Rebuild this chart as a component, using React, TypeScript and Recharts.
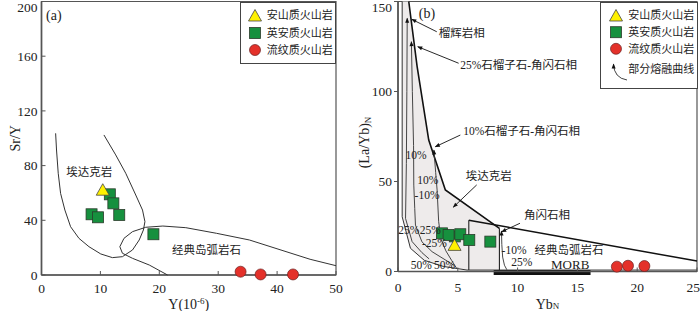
import React from 'react';
import {
  ScatterChart,
  Scatter,
  XAxis,
  YAxis,
  ReferenceDot,
  ReferenceArea,
  Legend,
} from 'recharts';

const SERIF = "'Liberation Serif', 'Times New Roman', serif";
const MIXED = "'Liberation Serif', 'Noto Sans CJK SC', serif";
const INK = '#222';
const AXIS = '#555';
const GREEN = '#16903e';
const RED = '#e4312a';
const YELLOW = '#fff100';
const FIELD_FILL = '#eeebeb';

// ---------- panel (a): Sr/Y vs Y ----------
const xTicksA = [0, 10, 20, 30, 40, 50];
const yTicksA = [0, 40, 80, 120, 160, 200];

const andesiteA = [{ x: 10.4, y: 62 }];
const daciteA = [
  { x: 11.6, y: 59 },
  { x: 12.2, y: 52.4 },
  { x: 8.5, y: 44.4 },
  { x: 9.6, y: 42.2 },
  { x: 13.2, y: 43.9 },
  { x: 19.0, y: 29.8 },
];
const rhyoliteA = [
  { x: 33.8, y: 2.4 },
  { x: 37.2, y: 0.4 },
  { x: 42.7, y: 0.4 },
];

// adakite field outline
const adakiteLineA = [
  { x: 2.4, y: 103.6 }, { x: 2.55, y: 91.4 }, { x: 2.84, y: 74.4 }, { x: 3.24, y: 59.7 },
  { x: 3.97, y: 47.5 }, { x: 4.94, y: 35.3 }, { x: 6.36, y: 26.8 }, { x: 8.06, y: 20.7 },
  { x: 10.06, y: 15.4 }, { x: 12.04, y: 12.7 }, { x: 13.74, y: 13.4 }, { x: 15.45, y: 18.3 },
  { x: 16.59, y: 25.6 }, { x: 17.3, y: 32.9 }, { x: 17.56, y: 39 }, { x: 17.15, y: 47.5 },
  { x: 16.0, y: 58.5 }, { x: 14.3, y: 74.4 }, { x: 12.6, y: 87.8 }, { x: 10.6, y: 102.4 },
];
// classic island arc field outline
const arcLineA = [
  { x: 21.4, y: 0 }, { x: 18.3, y: 7.3 }, { x: 15.45, y: 12.2 }, { x: 13.74, y: 15.9 },
  { x: 13.3, y: 20.7 }, { x: 14.0, y: 26.8 }, { x: 15.45, y: 31.7 }, { x: 17.7, y: 34.9 },
  { x: 20.6, y: 35.8 }, { x: 24.5, y: 34.6 }, { x: 29.7, y: 30.5 }, { x: 35.3, y: 25.6 },
  { x: 41.0, y: 17.8 }, { x: 45.6, y: 11.5 }, { x: 50, y: 6.8 },
];

const notesA = [
  { x: 2.1, y: 190, text: '(a)', size: 14 },
  { x: 8.1, y: 75.4, text: '埃达克岩', size: 11.5 },
  { x: 28, y: 18.3, text: '经典岛弧岩石', size: 11.5 },
];

// ---------- panel (b): (La/Yb)N vs YbN ----------
const xTicksB = [0, 5, 10, 15, 20, 25];
const yTicksB = [0, 50, 100, 150];

const andesiteB = [{ x: 4.73, y: 14.5 }];
const daciteB = [
  { x: 3.68, y: 21.2 },
  { x: 4.75, y: 19.5 },
  { x: 4.23, y: 20.3 },
  { x: 5.21, y: 20.7 },
  { x: 5.96, y: 17.5 },
  { x: 7.72, y: 16.6 },
];
const rhyoliteB = [
  { x: 18.3, y: 2.7 },
  { x: 19.23, y: 3.2 },
  { x: 20.6, y: 3.05 },
];

const adakiteFillB = [
  { x: 0.35, y: 150 }, { x: 0.35, y: 30.4 }, { x: 1.04, y: 12.9 }, { x: 2.2, y: 6.2 },
  { x: 3.8, y: 2.8 }, { x: 5.77, y: 0.8 }, { x: 8.48, y: 0.8 }, { x: 8.48, y: 24 },
  { x: 3.96, y: 45.3 }, { x: 2.57, y: 73 }, { x: 1.6, y: 113.8 }, { x: 0.9, y: 150 },
];
const outerLineB = [
  { x: 0.35, y: 150 }, { x: 0.35, y: 30.4 }, { x: 1.04, y: 12.9 }, { x: 2.2, y: 6.2 },
  { x: 3.8, y: 2.8 }, { x: 5.77, y: 0.8 }, { x: 25, y: 0.8 },
];
const adakiteEdgeB = [
  { x: 0.9, y: 150 }, { x: 1.6, y: 113.8 }, { x: 2.57, y: 73 }, { x: 3.96, y: 45.3 },
  { x: 8.48, y: 24 },
];
const amphiboleBoxB = [
  { x: 5.92, y: 0.8 }, { x: 5.92, y: 28.5 },
];
const amphiboleRightB = [
  { x: 8.48, y: 24 }, { x: 8.48, y: 0.8 },
];
const arcTopB = [
  { x: 5.92, y: 28.5 }, { x: 25, y: 5.8 },
];
const morbRange = { from: 8, to: 16.1 };

// partial melting curves, listed bottom to top (arrow at the top end)
const eclogiteCurve = [
  { x: 2.6, y: 7 }, { x: 2.0, y: 10.5 }, { x: 1.18, y: 16.6 }, { x: 0.63, y: 29.5 },
  { x: 0.7, y: 60 }, { x: 0.74, y: 100 }, { x: 0.77, y: 140.7 },
];
const garnet25Curve = [
  { x: 4.65, y: 3.6 }, { x: 2.85, y: 11 }, { x: 2.0, y: 16.5 }, { x: 1.46, y: 25.8 },
  { x: 1.4, y: 35 }, { x: 1.32, y: 48 }, { x: 1.3, y: 70 }, { x: 1.2, y: 100 },
  { x: 1.12, y: 127.7 },
];
const garnet10Curve = [
  { x: 4.9, y: 1.8 }, { x: 4.5, y: 6 }, { x: 4.0, y: 11.5 }, { x: 3.6, y: 18 },
  { x: 3.4, y: 27.7 }, { x: 3.27, y: 45.3 }, { x: 3.15, y: 55 }, { x: 3.0, y: 67.5 },
];
const amphiboliteCurve = [
  { x: 9.1, y: 1 }, { x: 8.9, y: 3.5 }, { x: 8.75, y: 8 }, { x: 8.68, y: 15 },
  { x: 8.65, y: 22.5 },
];

// label arrows: tail -> head
const pointersB = [
  [{ x: 3.24, y: 133.2 }, { x: 1.15, y: 140.1 }],
  [{ x: 5.07, y: 115.7 }, { x: 1.65, y: 124.9 }],
  [{ x: 5.21, y: 75.8 }, { x: 3.12, y: 69.3 }],
  [{ x: 6.58, y: 48.1 }, { x: 4.62, y: 35.7 }],
  [{ x: 10.2, y: 26.8 }, { x: 8.67, y: 22.1 }],
];

const notesB = [
  { x: 2.42, y: 143.4, text: '(b)', size: 14, anchor: 'center' },
  { x: 3.4, y: 132.5, text: '榴辉岩相', size: 11.5, anchor: 'right' },
  { x: 5.2, y: 115, text: '25%石榴子石-角闪石相', size: 11.5, anchor: 'right' },
  { x: 5.45, y: 78, text: '10%石榴子石-角闪石相', size: 11.5, anchor: 'right' },
  { x: 7.58, y: 53, text: '埃达克岩', size: 11.5, anchor: 'center' },
  { x: 12.46, y: 31.4, text: '角闪石相', size: 11.5, anchor: 'center' },
  { x: 14.3, y: 11.9, text: '经典岛弧岩石', size: 11.5, anchor: 'center' },
  { x: 14.4, y: 4, text: 'MORB', size: 13, anchor: 'center' },
];
const percentsB = [
  { x: 1.5, y: 64.7, text: '10%' },
  { x: 2.5, y: 50.8, text: '10%' },
  { x: 2.43, y: 42.5, text: '-10%' },
  { x: 0.9, y: 23, text: '25%' },
  { x: 2.7, y: 23, text: '25%' },
  { x: 3.05, y: 15.7, text: '-25%' },
  { x: 1.95, y: 3.6, text: '50%' },
  { x: 3.9, y: 3.6, text: '50%' },
  { x: 9.7, y: 12, text: '-10%' },
  { x: 10.35, y: 5.4, text: '25%' },
];

const legendRows = ['安山质火山岩', '英安质火山岩', '流纹质火山岩'];
const curveLegendText = '部分熔融曲线';

// ---------- shapes ----------
const Tri = ({ cx, cy }: any) => (
  <polygon
    points={`${cx},${cy - 6.5} ${cx + 6.5},${cy + 5} ${cx - 6.5},${cy + 5}`}
    fill={YELLOW}
    stroke="#444"
    strokeWidth={0.8}
  />
);
const Sq = ({ cx, cy }: any) => (
  <rect x={cx - 5.5} y={cy - 5.5} width={11} height={11} fill={GREEN} stroke="#2b3b2b" strokeWidth={0.8} />
);
const Circ = ({ cx, cy }: any) => (
  <circle cx={cx} cy={cy} r={5.5} fill={RED} stroke="#6a2020" strokeWidth={0.7} />
);
const noShape = () => null;

const curve = (key: string, data: any[], stroke: string, width: number, extra: any = {}) => (
  <Scatter
    key={key}
    data={data}
    line={{ stroke, strokeWidth: width, fill: 'none', ...extra }}
    shape={noShape}
    legendType="none"
    isAnimationActive={false}
  />
);

const note = (n: any, i: number, prefix: string) => (
  <ReferenceDot
    key={`${prefix}-${i}`}
    x={n.x}
    y={n.y}
    r={0}
    fill="none"
    stroke="none"
    label={{
      value: n.text,
      position: n.anchor || 'center',
      offset: 0,
      fontSize: n.size || 11,
      fontFamily: MIXED,
      fill: INK,
    }}
  />
);

// ---------- ticks and titles ----------
// edgeValue: a tick label sitting at the page edge, pulled inside
const xTick = (margin: number, edgeValue: number | null) => (props: any) => {
  const { x, y, payload } = props;
  const atEdge = payload.value === edgeValue;
  return (
    <g>
      <line x1={x} x2={x} y1={y - margin} y2={y - margin - 4} stroke={AXIS} strokeWidth={1} />
      <text
        x={atEdge ? x + 3 : x}
        y={y}
        dy="0.71em"
        textAnchor={atEdge ? 'end' : 'middle'}
        fontSize={13.5}
        fontFamily={SERIF}
        fill={INK}
      >
        {payload.value}
      </text>
    </g>
  );
};

const yTickA = (props: any) => {
  const { x, y, payload } = props;
  const shift = payload.value === 200 ? 5.5 : 0;
  return (
    <g>
      <line x1={x + 4} x2={x + 8} y1={y} y2={y} stroke={AXIS} strokeWidth={1} />
      <text x={x} y={y + shift} dy="0.35em" textAnchor="end" fontSize={13.5} fontFamily={SERIF} fill={INK}>
        {payload.value}
      </text>
    </g>
  );
};

const yTickB = (props: any) => {
  const { x, y, payload } = props;
  const shift = payload.value === 150 ? 5.5 : 0;
  return (
    <text x={x} y={y + shift} dy="0.35em" textAnchor="end" fontSize={13.5} fontFamily={SERIF} fill={INK}>
      {payload.value}
    </text>
  );
};

const vb = (p: any) => p.viewBox || p;

const yTitleA = (p: any) => {
  const v = vb(p);
  const cx = v.x + 15;
  const cy = v.y + v.height / 2;
  return (
    <text x={cx} y={cy} transform={`rotate(-90 ${cx} ${cy})`} textAnchor="middle" dy="0.35em"
      fontSize={14} fontFamily={SERIF} fill={INK}>
      Sr/Y
    </text>
  );
};
const xTitleA = (p: any) => {
  const v = vb(p);
  return (
    <text x={v.x + v.width / 2} y={v.y + 34} textAnchor="middle" fontSize={14} fontFamily={SERIF} fill={INK}>
      Y(10<tspan dy={-5} fontSize={9}>-6</tspan><tspan dy={5}>)</tspan>
    </text>
  );
};
const yTitleB = (p: any) => {
  const v = vb(p);
  const cx = v.x + 14;
  const cy = v.y + v.height / 2 + 6;
  return (
    <text x={cx} y={cy} transform={`rotate(-90 ${cx} ${cy})`} textAnchor="middle" dy="0.35em"
      fontSize={14} fontFamily={SERIF} fill={INK}>
      (La/Yb)<tspan fontSize={9} dy={2}>N</tspan>
    </text>
  );
};
const xTitleB = (p: any) => {
  const v = vb(p);
  return (
    <text x={v.x + v.width / 2} y={v.y + 37.5} textAnchor="middle" fontSize={14} fontFamily={SERIF} fill={INK}>
      Yb<tspan fontSize={9}>N</tspan>
    </text>
  );
};

// ---------- legends ----------
const LegendBox = ({ w, h, withCurve }: { w: number; h: number; withCurve: boolean }) => {
  const rowY = withCurve ? [13.5, 30.2, 46.8] : [13.5, 31, 48];
  const iconX = withCurve ? 16 : 15;
  const textX = withCurve ? 28.3 : 26.7;
  return (
    <svg width={w} height={h} style={{ display: 'block' }}>
      <rect x={0.5} y={0.5} width={w - 1} height={h - 1} fill="#fff" stroke="#444" strokeWidth={1} />
      <Tri cx={iconX} cy={rowY[0] + 0.5} />
      <Sq cx={iconX} cy={rowY[1]} />
      <Circ cx={iconX} cy={rowY[2]} />
      {legendRows.map((t, i) => (
        <text key={t} x={textX} y={rowY[i]} dy="0.35em" fontSize={11} fontFamily={MIXED} fill={INK}>
          {t}
        </text>
      ))}
      {withCurve && (
        <g>
          <path d="M 27 78 Q 14 76 13.5 62" fill="none" stroke="#111" strokeWidth={0.8} markerEnd="url(#ah)" />
          <text x={textX} y={66.8} dy="0.35em" fontSize={11} fontFamily={MIXED} fill={INK}>
            {curveLegendText}
          </text>
        </g>
      )}
    </svg>
  );
};

const PanelA = () => (
  <ScatterChart width={350} height={311} margin={{ top: 1.5, right: 14, bottom: 0, left: 0 }}>
    <XAxis
      type="number"
      dataKey="x"
      domain={[0, 50]}
      ticks={xTicksA}
      interval={0}
      height={36}
      tickSize={0}
      tickMargin={8}
      tickLine={false}
      tick={xTick(8, null)}
      axisLine={{ stroke: AXIS, strokeWidth: 1.3 }}
      label={xTitleA}
    />
    <YAxis
      type="number"
      dataKey="y"
      domain={[0, 200]}
      ticks={yTicksA}
      interval={0}
      width={41.5}
      tickSize={0}
      tickMargin={4}
      tickLine={false}
      tick={yTickA}
      axisLine={{ stroke: AXIS, strokeWidth: 1.6 }}
      label={yTitleA}
    />
    <ReferenceArea x1={0} x2={50} y1={0} y2={200} fill="none" stroke={AXIS} strokeWidth={1.2} />
    {curve('adakA', adakiteLineA, '#333', 1)}
    {curve('arcA', arcLineA, '#333', 1)}
    <Scatter data={rhyoliteA} shape={Circ} isAnimationActive={false} />
    <Scatter data={daciteA} shape={Sq} isAnimationActive={false} />
    <Scatter data={andesiteA} shape={Tri} isAnimationActive={false} />
    {notesA.map((n, i) => note(n, i, 'na'))}
    <Legend
      layout="horizontal"
      align="center"
      verticalAlign="middle"
      wrapperStyle={{ left: 240, top: 1.5, width: 96, height: 62 }}
      content={() => <LegendBox w={96} h={62} withCurve={false} />}
    />
  </ScatterChart>
);

const PanelB = () => (
  <ScatterChart width={350} height={311} margin={{ top: 1.5, right: 3, bottom: 0, left: 0 }}>
    <XAxis
      type="number"
      dataKey="x"
      domain={[0, 25]}
      ticks={xTicksB}
      interval={0}
      height={39.5}
      tickSize={0}
      tickMargin={11}
      tickLine={false}
      tick={xTick(11, 25)}
      axisLine={{ stroke: AXIS, strokeWidth: 1.3 }}
      label={xTitleB}
    />
    <YAxis
      type="number"
      dataKey="y"
      domain={[0, 150]}
      ticks={yTicksB}
      interval={0}
      width={48}
      tickSize={4}
      tickMargin={2}
      tickLine={{ stroke: AXIS }}
      tick={yTickB}
      axisLine={{ stroke: AXIS, strokeWidth: 1.6 }}
      label={yTitleB}
    />
    <ReferenceArea x1={0} x2={25} y1={0} y2={150} fill="none" stroke={AXIS} strokeWidth={1.2} />
    {curve('fillB', adakiteFillB, 'none', 0, { fill: FIELD_FILL })}
    {curve('outerB', outerLineB, '#333', 1)}
    {curve('edgeB', adakiteEdgeB, '#111', 1.6)}
    {curve('boxB', amphiboleBoxB, '#222', 1.1)}
    {curve('boxRB', amphiboleRightB, '#222', 1.1)}
    {curve('arcB', arcTopB, '#111', 1.5)}
    {curve('eclB', eclogiteCurve, '#333', 0.9, { markerEnd: 'url(#ah)' })}
    {curve('g25B', garnet25Curve, '#333', 0.9, { markerEnd: 'url(#ah)' })}
    {curve('g10B', garnet10Curve, '#333', 0.9, { markerEnd: 'url(#ah)' })}
    {curve('amphB', amphiboliteCurve, '#333', 0.9, { markerEnd: 'url(#ah)' })}
    {pointersB.map((seg, i) => curve(`ptr${i}`, seg, '#111', 0.9, { markerEnd: 'url(#ah)' }))}
    <ReferenceArea
      x1={morbRange.from}
      x2={morbRange.to}
      y1={-2}
      y2={0.8}
      fill="#111"
      fillOpacity={1}
      stroke="none"
      ifOverflow="visible"
    />
    {percentsB.map((n, i) => note({ ...n, size: 11.5 }, i, 'pb'))}
    {notesB.map((n, i) => note(n, i, 'nb'))}
    <Scatter data={rhyoliteB} shape={Circ} isAnimationActive={false} />
    <Scatter data={daciteB} shape={Sq} isAnimationActive={false} />
    <Scatter data={andesiteB} shape={Tri} isAnimationActive={false} />
    <Legend
      layout="horizontal"
      align="center"
      verticalAlign="middle"
      wrapperStyle={{ left: 250, top: 1.5, width: 98, height: 87 }}
      content={() => <LegendBox w={98} h={87} withCurve={true} />}
    />
  </ScatterChart>
);

export default function App() {
  return (
    <div style={{ position: 'absolute', left: 0, top: 0, width: 700, height: 311, background: '#fff', overflow: 'hidden' }}>
      <svg width={0} height={0} style={{ position: 'absolute' }}>
        <defs>
          <marker id="ah" viewBox="0 0 10 10" refX="9" refY="5" markerWidth="6" markerHeight="5"
            markerUnits="userSpaceOnUse" orient="auto">
            <path d="M0,1 L10,5 L0,9 z" fill="#111" />
          </marker>
        </defs>
      </svg>
      <div style={{ position: 'absolute', left: 0, top: 0 }}>
        <PanelA />
      </div>
      <div style={{ position: 'absolute', left: 350, top: 0 }}>
        <PanelB />
      </div>
    </div>
  );
}
